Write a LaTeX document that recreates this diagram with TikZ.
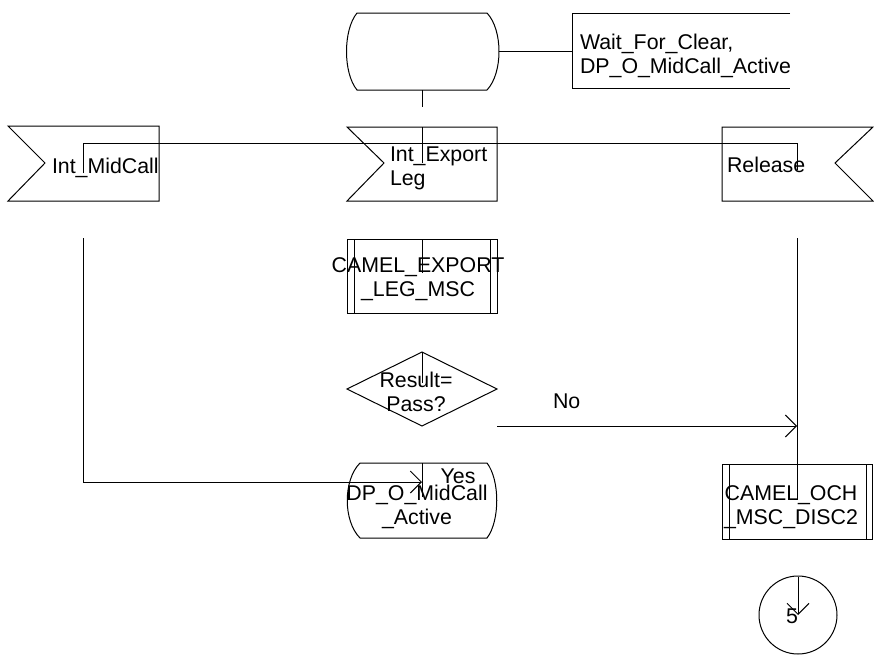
\documentclass[tikz,border=0pt]{standalone}
\usepackage{fontspec}
\setmainfont{Liberation Sans}
\usetikzlibrary{arrows.meta}

\tikzset{
  sdl/.style={draw=black, line width=0.75pt, line join=miter},
  flow/.style={draw=black, line width=0.75pt},
  flowarrow/.style={flow, -{Straight Barb[length=8.25pt,width=16.5pt]}},
  lbl/.style={inner sep=0pt, outer sep=0pt, font=\fontsize{16}{18}\selectfont},
}

\begin{document}
\begin{tikzpicture}[x=0.75pt, y=0.75pt, yscale=-1]
  \useasboundingbox (0,0) rectangle (874,664);

  % state at the top and its comment
  \path[sdl] (357,13) -- (487,13) .. controls (503,30) and (503,73) .. (487,90)
    -- (357,90) .. controls (343,73) and (343,30) .. (357,13) -- cycle;
  \path[sdl] (790,13) -- (572,13) -- (572,88) -- (790,88);
  \path (580,34) node[lbl, anchor=north west, align=left] (waitclear)
    {Wait\_For\_Clear,\\DP\_O\_MidCall\_Active};
  \coordinate (statetop-e) at (499,51);
  \coordinate (comment-w) at (572,51);
  \coordinate (statetop-s) at (422,90);
  \coordinate (statetop-t) at (422,107);
  \draw[flow] (statetop-e) -- (comment-w);
  \draw[flow] (statetop-s) -- (statetop-t);

  % input signals
  \path[sdl] (8,126) -- (159,126) -- (159,201) -- (8,201) -- (45,163) -- cycle;
  \path (52,173) node[lbl, anchor=base west] (midcall) {Int\_MidCall};
  \path[sdl] (347,127) -- (497,127) -- (497,201) -- (347,201) -- (384,163) -- cycle;
  \path (390,147) node[lbl, anchor=north west, align=left] (exportleg)
    {Int\_Export\\Leg};
  \path[sdl] (722,127) -- (873,127) -- (835,163) -- (873,201) -- (722,201) -- cycle;
  \path (727,172) node[lbl, anchor=base west] (release) {Release};

  \coordinate (midcall-n) at (83,173);
  \coordinate (midcall-c) at (83,143);
  \coordinate (release-c) at (797,143);
  \coordinate (release-n) at (797,170);
  \coordinate (exportleg-t) at (422,127);
  \coordinate (exportleg-c) at (422,163);
  \draw[flow] (midcall-n) -- (midcall-c) -- (release-c) -- (release-n);
  \draw[flow] (exportleg-t) -- (exportleg-c);

  % procedure call
  \path[sdl] (347,239) rectangle (497,313);
  \path[sdl] (354,239) -- (354,313) (490,239) -- (490,313);
  \path (418,258) node[lbl, anchor=north, align=center] (exportmsc)
    {CAMEL\_EXPORT\\\_LEG\_MSC};
  \coordinate (exportmsc-t) at (422,239);
  \coordinate (exportmsc-c) at (422,273);
  \draw[flow] (exportmsc-t) -- (exportmsc-c);

  % decision
  \path[sdl] (347,389) -- (422,352) -- (497,389) -- (422,426) -- cycle;
  \path (416,372) node[lbl, anchor=north, align=center] (result)
    {Result=\\Pass?};
  \coordinate (result-t) at (422,352);
  \coordinate (result-c) at (422,383);
  \draw[flow] (result-t) -- (result-c);
  \path (553,408) node[lbl, anchor=base west] (no) {No};
  \coordinate (result-e) at (497,426);
  \coordinate (release-in) at (797,426);
  \draw[flowarrow] (result-e) -- (release-in);

  % left branch down to the state
  \coordinate (midcall-s) at (83,238);
  \coordinate (midcall-b) at (83,482);
  \coordinate (midstate-w) at (422,482);
  \draw[flowarrow] (midcall-s) -- (midcall-b) -- (midstate-w);

  % state DP_O_MidCall_Active
  \path[sdl] (360,463) -- (487,463) .. controls (500,480) and (500,521) .. (487,538)
    -- (360,538) .. controls (343,521) and (343,480) .. (360,463) -- cycle;
  \path (458,483) node[lbl, anchor=base] (yes) {Yes};
  \path (417,485) node[lbl, anchor=north, align=center] (midstate)
    {DP\_O\_MidCall\\\_Active};
  \coordinate (midstate-t) at (422,463);
  \coordinate (midstate-c) at (422,497);
  \draw[flow] (midstate-t) -- (midstate-c);

  % release branch
  \coordinate (release-s) at (797,238);
  \coordinate (ochmsc-c) at (797,500);
  \draw[flow] (release-s) -- (ochmsc-c);
  \path[sdl] (722,464) rectangle (872,539);
  \path[sdl] (729,464) -- (729,539) (866,464) -- (866,539);
  \path (791,486) node[lbl, anchor=north, align=center] (ochmsc)
    {CAMEL\_OCH\\\_MSC\_DISC2};

  % connector
  \path[sdl] (798,615) circle (39);
  \path (792,623) node[lbl, anchor=base] (five) {5};
  \coordinate (five-t) at (798,577);
  \coordinate (five-c) at (798,615);
  \draw[flowarrow] (five-t) -- (five-c);
\end{tikzpicture}
\end{document}
